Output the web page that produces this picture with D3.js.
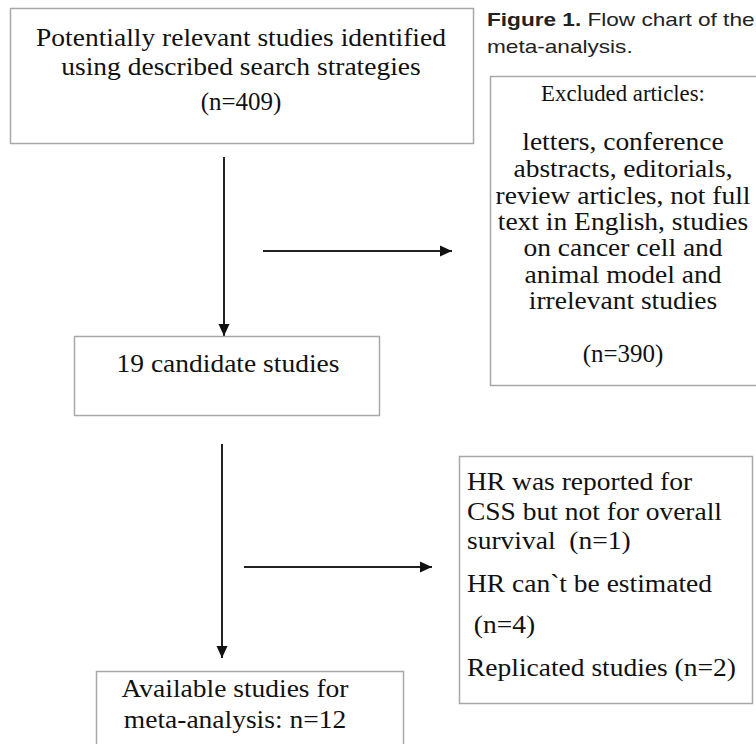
<!DOCTYPE html>
<html>
<head>
<meta charset="utf-8">
<script src="https://cdn.jsdelivr.net/npm/d3@7"></script>
<style>
  html, body { margin: 0; padding: 0; background: #fff; }
  svg text { white-space: pre; }
</style>
</head>
<body>
<div id="chart"></div>
<script>
// Flow chart content
const captionBold = 'Figure 1.';
const captionLines = [' Flow chart of the', 'meta-analysis.'];

const identifiedLines = ['Potentially relevant studies identified', 'using described search strategies', '(n=409)'];
const excludedLines = ['Excluded articles:', 'letters, conference', 'abstracts, editorials,', 'review articles, not full',
  'text in English, studies', 'on cancer cell and', 'animal model and', 'irrelevant studies', '(n=390)'];
const candidateLines = ['19 candidate studies'];
const removedLines = ['HR was reported for', 'CSS but not for overall', 'survival  (n=1)', 'HR can`t be estimated',
  ' (n=4)', 'Replicated studies (n=2)'];
const includedLines = ['Available studies for', 'meta-analysis: n=12'];

const width = 756;
const height = 744;
const fontSize = 25;
const stretch = 1.1; // the source text is a little wider than it is tall

// layout: box rect, text anchor x, baseline for each line, optional per-line width factor / size
const boxes = [
  { lines: identifiedLines, x: 10, y: 8, w: 463, h: 135, tx: 241, anchor: 'middle', base: [46, 75, 110],
    sx: [stretch, stretch, 1.0] },
  { lines: excludedLines, x: 490, y: 76, w: 268, h: 309, tx: 623, anchor: 'middle',
    base: [101, 150, 177, 204, 230, 256, 283, 309, 362],
    sx: [0.95, stretch, stretch, stretch, stretch, stretch, stretch, stretch, 1.0],
    fs: [24] },
  { lines: candidateLines, x: 74, y: 336, w: 305, h: 79, tx: 228, anchor: 'middle', base: [372] },
  { lines: removedLines, x: 459, y: 456, w: 293, h: 247, tx: 467, anchor: 'start',
    base: [490, 520, 549, 592, 633, 676] },
  { lines: includedLines, x: 96, y: 671, w: 307, h: 90, tx: 235, anchor: 'middle', base: [697, 728] },
];

const arrows = [
  { x1: 224, y1: 157, x2: 224, y2: 336 },
  { x1: 263, y1: 251, x2: 452, y2: 251 },
  { x1: 222, y1: 444, x2: 222, y2: 658 },
  { x1: 244, y1: 567, x2: 432, y2: 567 },
];

const svg = d3.select('#chart').append('svg')
  .attr('width', width)
  .attr('height', height)
  .attr('viewBox', `0 0 ${width} ${height}`);

svg.append('defs').append('marker')
  .attr('id', 'head')
  .attr('viewBox', '0 0 12 12')
  .attr('refX', 12)
  .attr('refY', 6)
  .attr('markerWidth', 12)
  .attr('markerHeight', 12)
  .attr('markerUnits', 'userSpaceOnUse')
  .attr('orient', 'auto')
  .append('path')
  .attr('d', 'M0,0.5 L12,6 L0,11.5 Z')
  .attr('fill', '#111');

svg.selectAll('.arrow')
  .data(arrows)
  .join('line')
  .attr('class', 'arrow')
  .attr('x1', (d) => d.x1)
  .attr('y1', (d) => d.y1)
  .attr('x2', (d) => d.x2)
  .attr('y2', (d) => d.y2)
  .attr('stroke', '#222')
  .attr('stroke-width', 2)
  .attr('marker-end', 'url(#head)');

const box = svg.selectAll('.box')
  .data(boxes)
  .join('g')
  .attr('class', 'box');

box.append('rect')
  .attr('x', (d) => d.x + 0.5)
  .attr('y', (d) => d.y + 0.5)
  .attr('width', (d) => d.w)
  .attr('height', (d) => d.h)
  .attr('fill', '#fff')
  .attr('stroke', '#a8a8a8')
  .attr('stroke-width', 1.5);

box.each(function (d) {
  d3.select(this).selectAll('text')
    .data(d.lines)
    .join('text')
    .attr('transform', (_, i) => `translate(${d.tx},${d.base[i]}) scale(${d.sx ? d.sx[i] : stretch},1)`)
    .attr('text-anchor', d.anchor)
    .attr('font-family', '"Liberation Serif", "Times New Roman", serif')
    .attr('font-size', (_, i) => `${(d.fs && d.fs[i]) || fontSize}px`)
    .attr('fill', '#111')
    .text((t) => t);
});

// caption in the top right corner
const cap = svg.append('g')
  .attr('font-family', '"Liberation Sans", Arial, sans-serif')
  .attr('font-size', '19px')
  .attr('fill', '#222');

const capFirst = cap.append('text').attr('transform', 'translate(487,26) scale(1.19,1)');
capFirst.append('tspan').attr('font-weight', '700').text(captionBold);
capFirst.append('tspan').text(captionLines[0]);
cap.append('text').attr('transform', 'translate(487,53) scale(1.19,1)').text(captionLines[1]);
</script>
</body>
</html>
